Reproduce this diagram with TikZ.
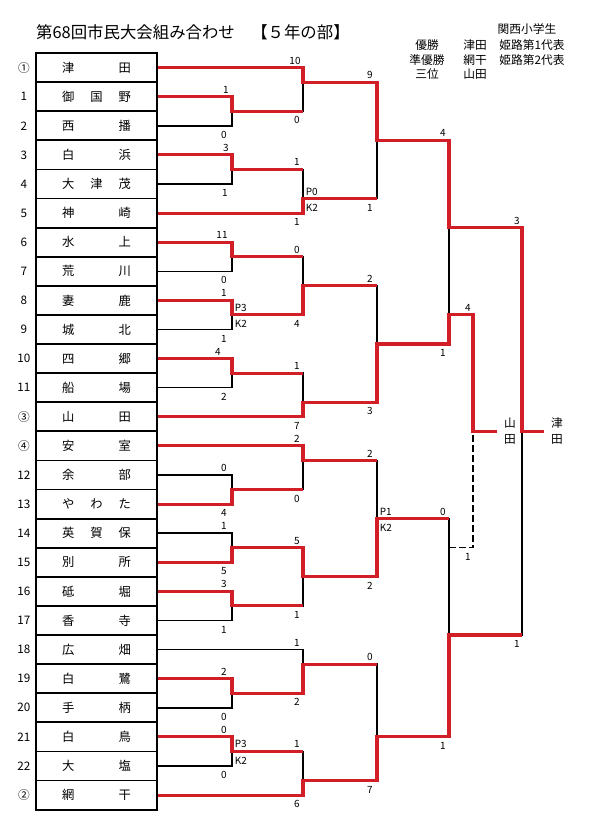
\documentclass[tikz,border=0pt]{standalone}
\usepackage{fontspec}
\setmainfont{Noto Sans CJK JP}
\usepackage{tikz}
\usetikzlibrary{positioning}
\definecolor{winred}{RGB}{210,30,38}
\tikzset{
  team/.style={draw, line width=1.6pt, minimum width=36.3mm, minimum height=8.73mm,
               inner sep=0pt, font=\fontsize{10.5}{12}\selectfont},
  seed/.style={font=\fontsize{10}{12}\selectfont, inner sep=0pt},
  lose/.style={line width=1.3pt, black},
  win/.style={line width=2.7pt, winred},
  playoff/.style={lose, dash pattern=on 2mm off 1mm},
  score/.style={font=\fontsize{8.5}{9}\selectfont, inner sep=0.5pt},
  pk/.style={score, anchor=west},
  result/.style={font=\fontsize{10}{13.6}\selectfont, align=center, inner xsep=2mm, inner ysep=0pt},
  legend/.style={font=\fontsize{10}{12}\selectfont, inner sep=0pt},
  title/.style={font=\fontsize{14}{16}\selectfont, inner sep=0pt, anchor=west},
}
\newcommand{\spread}[1]{\makebox[20.7mm][s]{#1}}

\begin{document}
\begin{tikzpicture}[x=0.3mm, y=-0.3mm]
\useasboundingbox (0,0) rectangle (592,830);

% title and results
\node[title] (title) at (36,32) {第68回市民大会組み合わせ　【５年の部】};
\node[legend] (kansai) at (527,29) {関西小学生};
\node[legend] (yusho) at (427,45) {優勝};
\node[legend] (yushoT) at (475,45) {津田};
\node[legend] (yushoR) at (532,45) {姫路第1代表};
\node[legend] (jun) at (427,60) {準優勝};
\node[legend] (junT) at (475,60) {網干};
\node[legend] (junR) at (532,60) {姫路第2代表};
\node[legend] (sani) at (427,74) {三位};
\node[legend] (saniT) at (475,74) {山田};

% teams
\foreach \lbl/\tm [count=\i] in {①/津\hfill 田, 1/御\hfill 国\hfill 野, 2/西\hfill 播,
    3/白\hfill 浜, 4/大\hfill 津\hfill 茂, 5/神\hfill 崎, 6/水\hfill 上, 7/荒\hfill 川,
    8/妻\hfill 鹿, 9/城\hfill 北, 10/四\hfill 郷, 11/船\hfill 場, ③/山\hfill 田,
    ④/安\hfill 室, 12/余\hfill 部, 13/や\hfill わ\hfill た, 14/英\hfill 賀\hfill 保,
    15/別\hfill 所, 16/砥\hfill 堀, 17/香\hfill 寺, 18/広\hfill 畑, 19/白\hfill 鷺,
    20/手\hfill 柄, 21/白\hfill 鳥, 22/大\hfill 塩, ②/網\hfill 干} {
  \node[team] (t\i) at (96.5,{67.6+29.1*(\i-1)}) {\spread{\tm}};
  \node[seed] (n\i) at (24,{67.6+29.1*(\i-1)}) {\lbl};
}

% match points
\coordinate (r1a) at (232,111.2);
\coordinate (r1b) at (232,169.4);
\coordinate (r1c) at (232,256.7);
\coordinate (r1d) at (232,314.9);
\coordinate (r1e) at (232,373.1);
\coordinate (r1f) at (232,489.5);
\coordinate (r1g) at (232,547.7);
\coordinate (r1h) at (232,605.9);
\coordinate (r1i) at (232,693.2);
\coordinate (r1j) at (232,751.4);
\coordinate (r2a) at (303,82.1);
\coordinate (r2b) at (303,198.5);
\coordinate (r2c) at (303,285.8);
\coordinate (r2d) at (303,402.2);
\coordinate (r2e) at (303,460.4);
\coordinate (r2f) at (303,576.8);
\coordinate (r2g) at (303,664.1);
\coordinate (r2h) at (303,780.5);
\coordinate (r3a) at (377,140.3);
\coordinate (r3b) at (377,344);
\coordinate (r3c) at (377,518.6);
\coordinate (r3d) at (377,736.9);
\coordinate (r4a) at (449,227.6);
\coordinate (r4b) at (449,635);
\coordinate (fin) at (522,431.3);
\coordinate (semi3) at (449,314.9);
\coordinate (lose4) at (449,547.7);
\coordinate (p3rd) at (473,431.3);

\node[result] (champ) at (557,431.3) {津\\田};
\node[result] (third) at (510,431.3) {山\\田};

% lines
\draw[lose] (t1.east) -| (r2a) (t2.east) -| (r1a) (t3.east) -| (r1a)
  (t4.east) -| (r1b) (t5.east) -| (r1b) (t6.east) -| (r2b)
  (t7.east) -| (r1c) (t8.east) -| (r1c) (t9.east) -| (r1d) (t10.east) -| (r1d)
  (t11.east) -| (r1e) (t12.east) -| (r1e) (t13.east) -| (r2d) (t14.east) -| (r2e)
  (t15.east) -| (r1f) (t16.east) -| (r1f) (t17.east) -| (r1g) (t18.east) -| (r1g)
  (t19.east) -| (r1h) (t20.east) -| (r1h) (t21.east) -| (r2g)
  (t22.east) -| (r1i) (t23.east) -| (r1i) (t24.east) -| (r1j) (t25.east) -| (r1j)
  (t26.east) -| (r2h);
\draw[lose] (r1a) -| (r2a) (r1b) -| (r2b) (r1c) -| (r2c) (r1d) -| (r2c)
  (r1e) -| (r2d) (r1f) -| (r2e) (r1g) -| (r2f) (r1h) -| (r2f)
  (r1i) -| (r2g) (r1j) -| (r2h);
\draw[lose] (r2a) -| (r3a) (r2b) -| (r3a) (r2c) -| (r3b) (r2d) -| (r3b)
  (r2e) -| (r3c) (r2f) -| (r3c) (r2g) -| (r3d) (r2h) -| (r3d);
\draw[lose] (r3a) -| (r4a) (r3b) -| (r4a) (r3c) -| (r4b) (r3d) -| (r4b)
  (r4a) -| (fin) (r4b) -| (fin);
\draw[playoff] (lose4) -| (p3rd);

\draw[win] (t1.east) -| (r2a) -| (r3a) -| (r4a) -| (fin) -- (champ.west);
\draw[win] (t2.east) -| (r1a) -- (r1a -| r2a);
\draw[win] (t4.east) -| (r1b) -- (r1b -| r2b);
\draw[win] (t6.east) -| (r2b) -- (r2b -| r3a);
\draw[win] (t7.east) -| (r1c) -- (r1c -| r2c);
\draw[win] (t9.east) -| (r1d) -| (r2c) -- (r2c -| r3b);
\draw[win] (t11.east) -| (r1e) -- (r1e -| r2d);
\draw[win] (t13.east) -| (r2d) -| (r3b) -| (semi3) -| (p3rd) -- (third.west);
\draw[win] (t14.east) -| (r2e) -- (r2e -| r3c);
\draw[win] (t16.east) -| (r1f) -- (r1f -| r2e);
\draw[win] (t18.east) -| (r1g) -| (r2f) -| (r3c) -- (r3c -| r4b);
\draw[win] (t19.east) -| (r1h) -- (r1h -| r2f);
\draw[win] (t22.east) -| (r1i) -| (r2g) -- (r2g -| r3d);
\draw[win] (t24.east) -| (r1j) -- (r1j -| r2h);
\draw[win] (t26.east) -| (r2h) -| (r3d) -| (r4b) -- (r4b -| fin);

% scores, 1st round
\node[score] (sa1) at (226,89.7) {1};
\node[score] (sa2) at (224,134.8) {0};
\node[score] (sb1) at (226,148) {3};
\node[score] (sb2) at (225,193) {1};
\node[score] (sc1) at (222,235) {11};
\node[score] (sc2) at (224,280.3) {0};
\node[score] (sd1) at (224,293.4) {1};
\node[score] (sd2) at (224,338.5) {1};
\node[score] (se1) at (218,351.6) {4};
\node[score] (se2) at (224,396.7) {2};
\node[score] (sf1) at (224,468) {0};
\node[score] (sf2) at (224,513) {4};
\node[score] (sg1) at (224,526) {1};
\node[score] (sg2) at (224,571.3) {5};
\node[score] (sh1) at (224,584.4) {3};
\node[score] (sh2) at (224,629.5) {1};
\node[score] (si1) at (224,671.7) {2};
\node[score] (si2) at (224,716.8) {0};
\node[score] (sj1) at (224,729.9) {0};
\node[score] (sj2) at (224,775) {0};
\node[pk] (pkd1) at (234,307.9) {P3};
\node[pk] (pkd2) at (234,323.9) {K2};
\node[pk] (pkj1) at (234,744.4) {P3};
\node[pk] (pkj2) at (234,760.4) {K2};

% scores, 2nd round
\node[score] (ta1) at (295,60.6) {10};
\node[score] (ta2) at (297,120.2) {0};
\node[score] (tb1) at (297,162.4) {1};
\node[score] (tb2) at (297,222.1) {1};
\node[score] (tc1) at (297,249.7) {0};
\node[score] (tc2) at (297,323.9) {4};
\node[score] (td1) at (297,366.1) {1};
\node[score] (td2) at (297,425.8) {7};
\node[score] (te1) at (297,438.9) {2};
\node[score] (te2) at (297,498.5) {0};
\node[score] (tf1) at (297,540.7) {5};
\node[score] (tf2) at (297,614.9) {1};
\node[score] (tg1) at (297,642.6) {1};
\node[score] (tg2) at (297,702.2) {2};
\node[score] (th1) at (297,744.4) {1};
\node[score] (th2) at (297,804.1) {6};
\node[pk] (pkb1) at (305,191.5) {P0};
\node[pk] (pkb2) at (305,207.5) {K2};

% scores, 3rd round and after
\node[score] (ua1) at (370,75.1) {9};
\node[score] (ua2) at (370,207.5) {1};
\node[score] (ub1) at (370,278.8) {2};
\node[score] (ub2) at (370,411.2) {3};
\node[score] (uc1) at (370,453.4) {2};
\node[score] (uc2) at (370,585.8) {2};
\node[score] (ud1) at (370,657.1) {0};
\node[score] (ud2) at (370,789.5) {7};
\node[pk] (pkc1) at (379,511.6) {P1};
\node[pk] (pkc2) at (379,527.6) {K2};
\node[score] (va1) at (443,133.3) {4};
\node[score] (va2) at (443,353) {1};
\node[score] (vb1) at (443,511.6) {0};
\node[score] (vb2) at (443,745.9) {1};
\node[score] (w3a) at (468,307.9) {4};
\node[score] (w3b) at (468,556.7) {1};
\node[score] (wf1) at (517,220.6) {3};
\node[score] (wf2) at (517,644) {1};
\end{tikzpicture}
\end{document}
